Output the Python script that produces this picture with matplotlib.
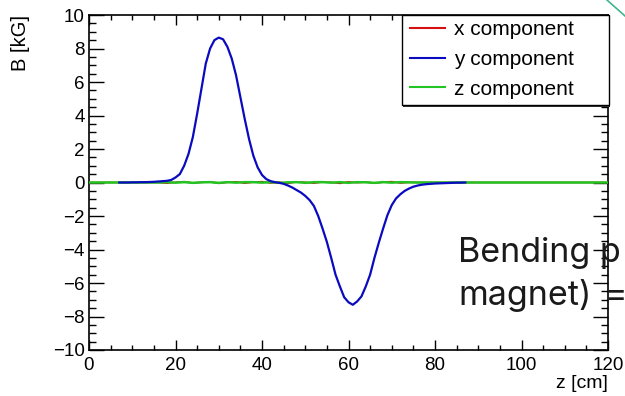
import numpy as np
import matplotlib.pyplot as plt
from matplotlib.ticker import MultipleLocator
from matplotlib.lines import Line2D
from matplotlib.patches import Rectangle

# y component of the field (z in cm, B in kG)
z_y = np.arange(7, 88)
b_y = [0.0, 0.0, 0.0, 0.01, 0.01, 0.02, 0.02, 0.03, 0.04, 0.06,
       0.08, 0.10, 0.15, 0.3, 0.5, 1.0, 1.7, 2.7, 4.1, 5.6,
       7.1, 8.0, 8.5, 8.65, 8.55, 8.1, 7.4, 6.4, 5.1, 3.8,
       2.6, 1.6, 0.9, 0.45, 0.2, 0.08, 0.02, -0.02, -0.08, -0.18,
       -0.3, -0.45, -0.6, -0.8, -1.05, -1.4, -2.0, -2.75, -3.55, -4.5,
       -5.5, -6.2, -6.85, -7.15, -7.3, -7.1, -6.8, -6.2, -5.5, -4.5,
       -3.6, -2.75, -1.95, -1.35, -0.95, -0.7, -0.5, -0.36, -0.25, -0.18,
       -0.13, -0.1, -0.08, -0.06, -0.05, -0.04, -0.03, -0.02, -0.01, -0.01,
       0.0]

# x and z components: flat, with a little noise in the middle
z_xz = np.arange(0, 121, 2)
b_z = [0]*9 + [0.02, -0.01, 0.02, -0.02, 0.01, 0.02, -0.02, 0.02, -0.01, 0.02,
               0.02, -0.01, 0.02, -0.02, 0.01, 0.02, -0.02, 0.02, 0.02, -0.01,
               0.02, -0.02, 0.02, 0.01, -0.02, 0.02, -0.01, 0.02, 0.01, 0.0] + [0]*22
b_x = [0]*9 + [-0.04, 0.01, 0.05, -0.03, 0.01, 0.04, -0.05, 0.01, 0.04, -0.04,
               0.02, 0.05, -0.03, 0.01, -0.05, 0.04, 0.01, -0.04, 0.03, 0.01,
               -0.05, 0.04, -0.01, 0.03, -0.04, 0.02, 0.05, -0.03, 0.01, 0.0] + [0]*22

labels = ['x component', 'y component', 'z component']
red = '#d41010'
blue = '#0a0ac0'
green = '#22c422'

plt.rcParams['font.family'] = ['Liberation Sans', 'DejaVu Sans']
fig = plt.figure(figsize=(6.25, 3.96), dpi=100)
ax = fig.add_axes([89/625, 1 - 350/396, (608 - 89)/625, (350 - 15)/396])

ax.plot(z_xz, b_x, color=red, lw=1.2, zorder=2)
ax.plot(z_xz, b_z, color=green, lw=1.8, zorder=3)
ax.plot(z_y, b_y, color=blue, lw=1.6, zorder=4)

ax.set_xlim(0, 120)
ax.set_ylim(-10, 10)
ax.xaxis.set_major_locator(MultipleLocator(20))
ax.xaxis.set_minor_locator(MultipleLocator(5))
ax.yaxis.set_major_locator(MultipleLocator(2))
ax.yaxis.set_minor_locator(MultipleLocator(0.5))
ax.tick_params(which='both', direction='in', top=True, right=True,
               labelsize=13.5, width=1, colors='black')
ax.tick_params(axis='x', which='major', length=7.5, pad=5)
ax.tick_params(axis='x', which='minor', length=3.5)
ax.tick_params(axis='y', which='major', length=11, pad=3)
ax.tick_params(axis='y', which='minor', length=5)
for s in ax.spines.values():
    s.set_linewidth(1.2)

fig.text(20/625, 1 - 15/396, 'B [kG]', rotation=90, ha='center', va='top', fontsize=14.5)
fig.text(608/625, 1 - 384/396, 'z [cm]', ha='right', va='center', fontsize=14)

# legend: entries from fig.legend, box drawn ROOT-style with a thin shadow
handles = [Line2D([], [], color=c, lw=1.5) for c in (red, blue, green)]
leg = fig.legend(handles, labels, loc='upper left',
                 bbox_to_anchor=(410/625, 1 - 20/396),
                 borderaxespad=0, borderpad=0,
                 fontsize=15, frameon=False, handlelength=1.7,
                 handletextpad=0.4, labelspacing=0.52)
leg.set_zorder(12)
fig.add_artist(Rectangle((403/625, 1 - 106.5/396), 207/625, 90/396,
                         transform=fig.transFigure, facecolor='#333333',
                         edgecolor='none', zorder=10))
fig.add_artist(Rectangle((402/625, 1 - 105/396), 207/625, 90/396,
                         transform=fig.transFigure, facecolor='white',
                         edgecolor='black', lw=1, zorder=11))

# overlay text and decoration from the slide
txt = dict(fontsize=24.5, family='Inter', color='#1a1a1a', va='baseline', zorder=20)
fig.text(458/625, 1 - 262/396, 'Bending p', **txt)
fig.text(458/625, 1 - 305/396, 'magnet)', **txt)
fig.text(604/625, 1 - 305/396, '=', **txt)
fig.add_artist(Line2D([607/625, 625/625], [1.0, 1 - 16/396],
                      transform=fig.transFigure, color='#3fb58a', lw=1.2))

fig.savefig('out.png', dpi=100)
